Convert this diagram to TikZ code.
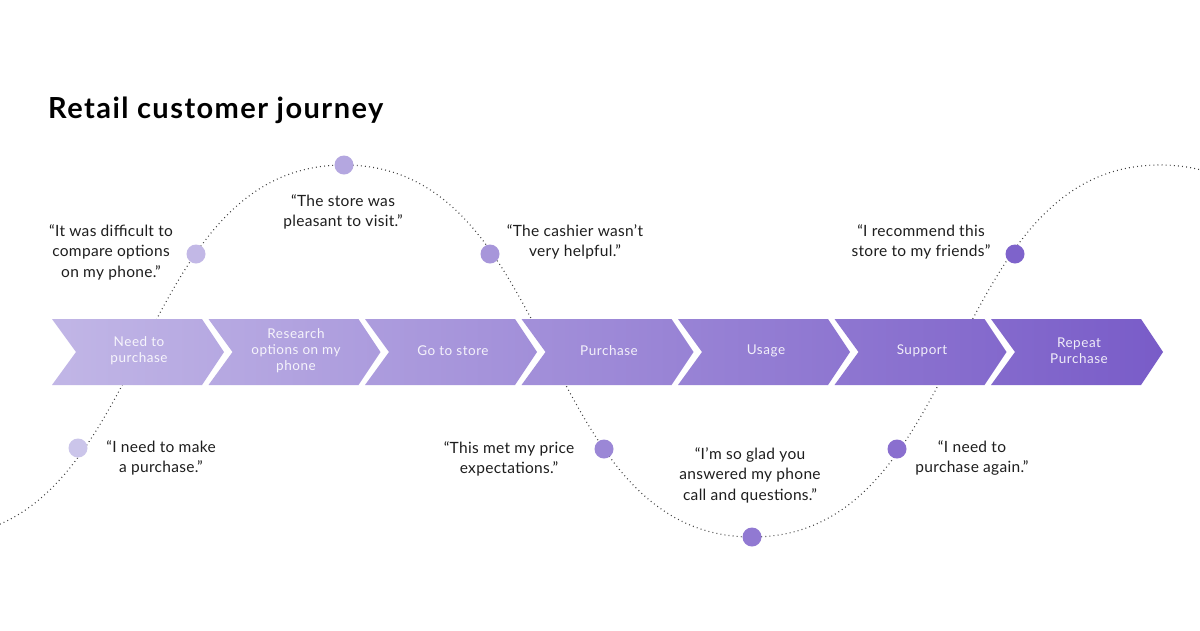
\documentclass[tikz,border=0pt]{standalone}
\usepackage{fontspec}
\setmainfont{Lato}
\newfontfamily\quotefont{Lato}[LetterSpace=2]
\newfontfamily\titlefont{Lato}[LetterSpace=5]
\newfontfamily\stagefont{Lato}[LetterSpace=4]
\definecolor{chL}{HTML}{C1B6E6}
\definecolor{chR}{HTML}{795CC8}
\definecolor{d1}{HTML}{CBC5EA}
\definecolor{d2}{HTML}{C2B8E6}
\definecolor{d3}{HTML}{B4A7E0}
\definecolor{d4}{HTML}{A796DA}
\definecolor{d5}{HTML}{9B87D6}
\definecolor{d6}{HTML}{9179D2}
\definecolor{d7}{HTML}{8A6FCF}
\definecolor{d8}{HTML}{7E63CB}
\definecolor{ink}{HTML}{1E1E1E}
\begin{document}
\begin{tikzpicture}[x=1pt,y=-1pt,
  curve/.style={draw=black!75, line width=1.1pt, dash pattern=on 0.9pt off 3.2pt},
  dotnode/.style={circle, inner sep=0pt, minimum size=19pt, draw=none},
  quote/.style={align=center, text=ink, font=\quotefont\fontsize{15.5}{20.5}\selectfont, inner sep=0pt},
  stagelabel/.style={align=center, text=white, text opacity=0.88, font=\stagefont\fontsize{13.5}{16}\selectfont, inner sep=0pt},
  titletext/.style={anchor=base west, text=black, font=\titlefont\bfseries\fontsize{29}{32}\selectfont, inner sep=0pt}]
\useasboundingbox (0,0) rectangle (1200,630);
\fill[white] (0,0) rectangle (1200,630);
\node[titletext] (title) at (48,118) {Retail customer journey};
% wave
\begin{scope}
\clip (0,0) rectangle (1200,630);
\draw[curve] (-64,537) .. controls (152,537) and (128,165) .. (344,165)
  .. controls (560,165) and (536,537) .. (752,537)
  .. controls (968,537) and (944,165) .. (1160,165)
  .. controls (1376,165) and (1352,537) .. (1568,537);
\end{scope}
% chevrons
\shade[left color=chL, right color=chR]
  \foreach \i [evaluate=\i as \x using 52+156.5*\i] in {0,...,6} {
    (\x,319) -- (\x+150,319) -- (\x+172,352) -- (\x+150,385) -- (\x,385) -- (\x+24,352) -- cycle
  };
\node[stagelabel] (s1) at (139,351) {Need to\\purchase};
\node[stagelabel] (s2) at (296,351) {Research\\options on my\\phone};
\node[stagelabel] (s3) at (453,351) {Go to store};
\node[stagelabel] (s4) at (609,351) {Purchase};
\node[stagelabel] (s5) at (766,351) {Usage};
\node[stagelabel] (s6) at (922,351) {Support};
\node[stagelabel] (s7) at (1079,351) {Repeat\\Purchase};
% dots
\node[dotnode, fill=d1] (p1) at (78,448) {};
\node[dotnode, fill=d2] (p2) at (196,254) {};
\node[dotnode, fill=d3] (p3) at (344,165) {};
\node[dotnode, fill=d4] (p4) at (490,254) {};
\node[dotnode, fill=d5] (p5) at (604,449) {};
\node[dotnode, fill=d6] (p6) at (752,537) {};
\node[dotnode, fill=d7] (p7) at (897,449) {};
\node[dotnode, fill=d8] (p8) at (1015,254) {};
% quotes
\node[quote] (q1) at (161,458) {“I need to make\\a purchase.”};
\node[quote] (q2) at (111,252) {“It was difficult to\\compare options\\on my phone.”};
\node[quote] (q3) at (343,212) {“The store was\\pleasant to visit.”};
\node[quote] (q4) at (575,242) {“The cashier wasn’t\\very helpful.”};
\node[quote] (q5) at (509,459) {“This met my price\\expectations.”};
\node[quote] (q6) at (750,475) {“I’m so glad you\\answered my phone\\call and questions.”};
\node[quote] (q7) at (972,458) {“I need to\\purchase again.”};
\node[quote] (q8) at (921,242) {“I recommend this\\store to my friends”};
\end{tikzpicture}
\end{document}
